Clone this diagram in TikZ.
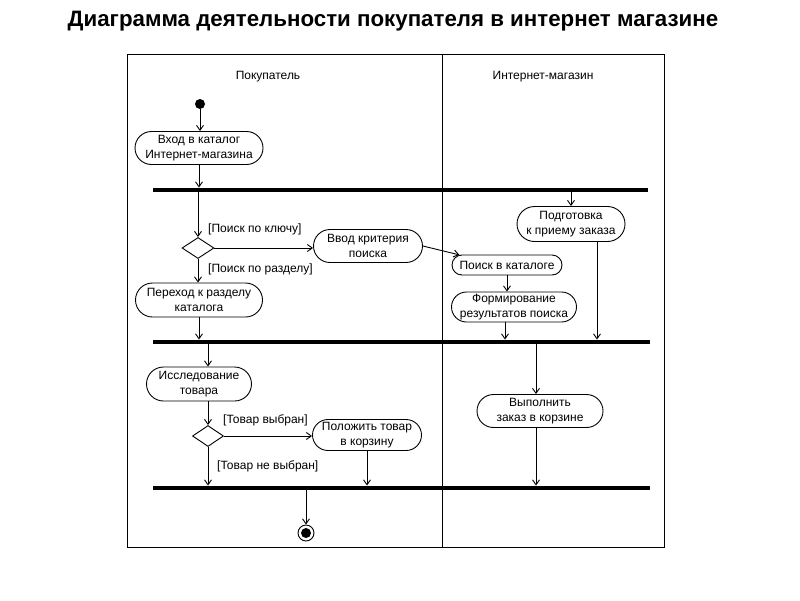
\documentclass[tikz,border=0pt]{standalone}
\usepackage{fontspec}
\setmainfont{Liberation Sans}
\usetikzlibrary{arrows.meta,shapes.misc,shapes.geometric}
\begin{document}
\begin{tikzpicture}[x=1pt,y=-1pt,
  act/.style={draw, rounded rectangle, align=center, inner sep=0pt, line width=0.9pt,
    font=\fontsize{12}{15}\selectfont},
  bar/.style={fill=black, inner sep=0pt, minimum height=4.5pt},
  flow/.style={-{Straight Barb[length=5pt,width=7pt]}, line width=0.9pt},
  dec/.style={draw, diamond, inner sep=0pt, line width=0.9pt},
  guard/.style={anchor=west, inner sep=0pt, font=\fontsize{12}{15}\selectfont},
  lane/.style={inner sep=0pt, font=\fontsize{12}{15}\selectfont}]
\useasboundingbox (0,0) rectangle (800,600);
\fill[white] (0,0) rectangle (800,600);
% title
\node[inner sep=0pt, font=\fontsize{22.3}{26}\bfseries] (title) at (393,21) {Диаграмма деятельности покупателя в интернет магазине};
% frame and lanes
\draw[line width=0.9pt] (127,54) rectangle (664,547);
\draw[line width=0.9pt] (442,54) -- (442,547);
\node[lane] (laneA) at (268,77) {Покупатель};
\node[lane] (laneB) at (543,77) {Интернет-магазин};
% nodes
\node[circle, fill=black, inner sep=0pt, minimum size=10pt] (start) at (200,104) {};
\node[act, minimum width=128pt, minimum height=33pt] (n1) at (199,148) {Вход в каталог\\Интернет-магазина};
\node[bar, minimum width=495pt] (bar1) at (400.5,190) {};
\node[dec, minimum width=32pt, minimum height=21pt] (d1) at (198,248) {};
\node[act, minimum width=109pt, minimum height=33pt] (n2) at (368,246) {Ввод критерия\\поиска};
\node[act, minimum width=127pt, minimum height=34pt] (n3) at (199,300) {Переход к разделу\\каталога};
\node[act, minimum width=108pt, minimum height=35pt] (n4) at (571,224) {Подготовка\\к приему заказа};
\node[act, minimum width=110pt, minimum height=20pt] (n5) at (507,265) {Поиск в каталоге};
\node[act, minimum width=125pt, minimum height=30pt] (n6) at (514,307) {Формирование\\результатов поиска};
\node[bar, minimum width=497pt] (bar2) at (401.5,342) {};
\node[act, minimum width=105pt, minimum height=34pt] (n7) at (199,384) {Исследование\\товара};
\node[dec, minimum width=31pt, minimum height=21pt] (d2) at (208,436) {};
\node[act, minimum width=109pt, minimum height=31pt] (n8) at (367,435) {Положить товар\\в корзину};
\node[act, minimum width=126pt, minimum height=33pt] (n9) at (540,411) {Выполнить\\заказ в корзине};
\node[bar, minimum width=497pt] (bar3) at (401.5,488) {};
\node[circle, draw, line width=0.9pt, inner sep=0pt, minimum size=16pt] (end) at (306,533) {};
\fill (end.center) circle (5pt);
% guards
\node[guard] (g1) at (208,229) {[Поиск по ключу]};
\node[guard] (g2) at (208,269) {[Поиск по разделу]};
\node[guard] (g3) at (223,420) {[Товар выбран]};
\node[guard] (g4) at (217,466) {[Товар не выбран]};
% helper coordinates
\coordinate (a4) at ([xshift=26pt]n4.south);
\coordinate (a6) at ([xshift=-9pt]n6.south);
\coordinate (a7) at ([xshift=9pt]n7.north);
\coordinate (b7) at ([xshift=9pt]n7.south);
\coordinate (a9) at ([xshift=-4pt]n9.north);
\coordinate (b9) at ([xshift=-4pt]n9.south);
% connectors
\draw[flow] (start) -- (start |- n1.north);
\draw[flow] (n1.south) -- (n1.south |- bar1.north);
\draw[flow] (d1.north |- bar1.south) -- (d1.north);
\draw[flow] (d1.east) -- (d1.east -| n2.west);
\draw[flow] (d1.south) -- (d1.south |- n3.north);
\draw[flow] (n3.south) -- (n3.south |- bar2.north);
\draw[flow] (n2.east) -- (n5.168);
\draw[flow] (n4.north |- bar1.south) -- (n4.north);
\draw[flow] (a4) -- (a4 |- bar2.north);
\draw[flow] (n5.south) -- (n5.south |- n6.north);
\draw[flow] (a6) -- (a6 |- bar2.north);
\draw[flow] (a7 |- bar2.south) -- (a7);
\draw[flow] (b7) -- (d2.north);
\draw[flow] (d2.east) -- (d2.east -| n8.west);
\draw[flow] (d2.south) -- (d2.south |- bar3.north);
\draw[flow] (n8.south) -- (n8.south |- bar3.north);
\draw[flow] (a9 |- bar2.south) -- (a9);
\draw[flow] (b9) -- (b9 |- bar3.north);
\draw[flow] (end.north |- bar3.south) -- (end.north);
\end{tikzpicture}
\end{document}
